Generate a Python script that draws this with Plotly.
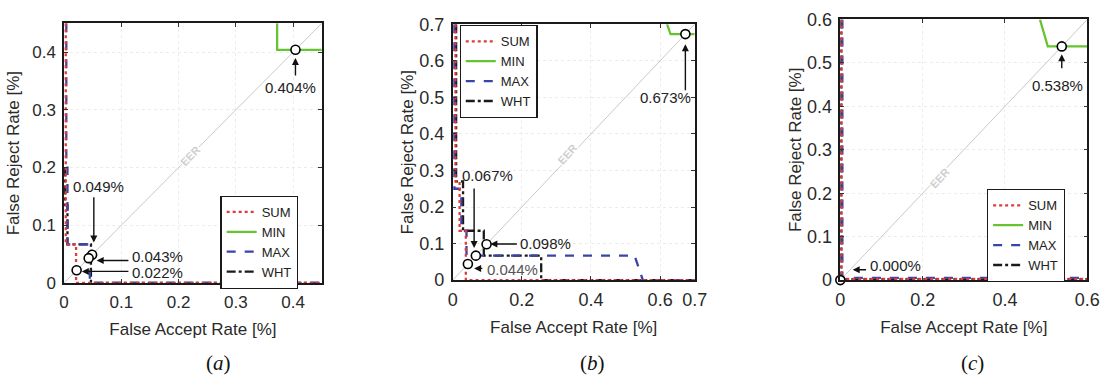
import plotly.graph_objects as go

# ---------------- data ----------------
# Panel (a)
a_sum_far = [0.003, 0.003, 0.021, 0.021, 0.45]
a_sum_frr = [0.45, 0.067, 0.067, 0.0, 0.0]
a_min_far = [0.372, 0.372, 0.45]
a_min_frr = [0.45, 0.404, 0.404]
a_max_far = [0.004, 0.004, 0.006, 0.006, 0.045, 0.045, 0.45]
a_max_frr = [0.45, 0.2, 0.2, 0.067, 0.067, 0.0, 0.0]
a_wht_far = [0.002, 0.002, 0.006, 0.006, 0.047, 0.047, 0.45]
a_wht_frr = [0.2, 0.135, 0.135, 0.067, 0.067, 0.0, 0.0]
a_eer = [0.404, 0.049, 0.043, 0.022]

# Panel (b)
b_sum_far = [0.008, 0.008, 0.02, 0.02, 0.038, 0.038, 0.7]
b_sum_frr = [0.7, 0.27, 0.27, 0.135, 0.135, 0.0, 0.0]
b_min_far = [0.62, 0.63, 0.7]
b_min_frr = [0.7, 0.673, 0.673]
b_max_far = [0.005, 0.005, 0.025, 0.025, 0.04, 0.04, 0.526, 0.55, 0.7]
b_max_frr = [0.7, 0.25, 0.25, 0.135, 0.135, 0.067, 0.067, 0.0, 0.0]
b_wht_far = [0.01, 0.01, 0.03, 0.03, 0.09, 0.09, 0.256, 0.256, 0.7]
b_wht_frr = [0.7, 0.27, 0.27, 0.135, 0.135, 0.067, 0.067, 0.0, 0.0]
b_eer = [0.673, 0.098, 0.067, 0.044]

# Panel (c)
c_sum_far = [0.003, 0.003, 0.6]
c_sum_frr = [0.6, 0.003, 0.003]
c_min_far = [0.485, 0.504, 0.6]
c_min_frr = [0.6, 0.538, 0.538]
c_max_far = [0.005, 0.005, 0.6]
c_max_frr = [0.6, 0.005, 0.005]
c_wht_far = [0.002, 0.002, 0.6]
c_wht_frr = [0.6, 0.002, 0.002]
c_eer = [0.538, 0.0]

series_names = ["SUM", "MIN", "MAX", "WHT"]
a_ticks = [0, 0.1, 0.2, 0.3, 0.4]
a_ticktext = ["0", "0.1", "0.2", "0.3", "0.4"]
b_xticks = [0, 0.2, 0.4, 0.6, 0.7]
b_xticktext = ["0", "0.2", "0.4", "0.6", "0.7"]
b_yticks = [0, 0.1, 0.2, 0.3, 0.4, 0.5, 0.6, 0.7]
b_yticktext = ["0", "0.1", "0.2", "0.3", "0.4", "0.5", "0.6", "0.7"]
c_xticks = [0, 0.2, 0.4, 0.6]
c_xticktext = ["0", "0.2", "0.4", "0.6"]
c_yticks = [0, 0.1, 0.2, 0.3, 0.4, 0.5, 0.6]
c_yticktext = ["0", "0.1", "0.2", "0.3", "0.4", "0.5", "0.6"]

# ---------------- styling ----------------
W, H = 1118, 383
FONT = "Liberation Sans, Arial, sans-serif"
styles = {
    "SUM": dict(color="#e03a3a", dash="dot", width=2.3),
    "MIN": dict(color="#66c430", dash="solid", width=2.3),
    "MAX": dict(color="#3a44a8", dash="dash", width=2.3),
    "WHT": dict(color="#1a1a1a", dash="dashdot", width=2.3),
}

fig = go.Figure()

panels = [
    ("x", "y", "legend", 0.45, [(a_sum_far, a_sum_frr), (a_min_far, a_min_frr), (a_max_far, a_max_frr), (a_wht_far, a_wht_frr)], a_eer),
    ("x2", "y2", "legend2", 0.7, [(b_sum_far, b_sum_frr), (b_min_far, b_min_frr), (b_max_far, b_max_frr), (b_wht_far, b_wht_frr)], b_eer),
    ("x3", "y3", "legend3", 0.6, [(c_sum_far, c_sum_frr), (c_min_far, c_min_frr), (c_max_far, c_max_frr), (c_wht_far, c_wht_frr)], c_eer),
]

for xa, ya, lg, vmax, curves, eer in panels:
    fig.add_trace(go.Scatter(x=[0, vmax], y=[0, vmax], mode="lines", xaxis=xa, yaxis=ya,
                             line=dict(color="#c9c9c9", width=1), showlegend=False, hoverinfo="skip"))
    order = [1, 3, 2, 0]
    for i in order:
        fx, fy = curves[i]
        name = series_names[i]
        fig.add_trace(go.Scatter(x=fx, y=fy, mode="lines", name=name, xaxis=xa, yaxis=ya,
                                 line=styles[name], legend=lg, showlegend=False))
    for name in series_names:
        fig.add_trace(go.Scatter(x=[None], y=[None], mode="lines", name=name, xaxis=xa, yaxis=ya,
                                 line=styles[name], legend=lg, showlegend=True))
    fig.add_trace(go.Scatter(x=eer, y=eer, mode="markers", xaxis=xa, yaxis=ya, showlegend=False,
                             cliponaxis=False,
                             marker=dict(symbol="circle", size=9, color="white",
                                         line=dict(color="black", width=1.6))))


def px_dom(a, b):
    return [a / W, b / W]


def ydom(top, bot):
    return [1 - bot / H, 1 - top / H]


def axis_common(fs):
    return dict(showline=True, linecolor="#1a1a1a", linewidth=1.5, mirror="ticks",
                ticks="inside", ticklen=4, tickcolor="#333", zeroline=False,
                showgrid=True, gridcolor="#ececec", griddash="dot", gridwidth=1,
                ticklabelstandoff=3,
                tickfont=dict(family=FONT, size=fs, color="#2a2a2a"),
                title_font=dict(family=FONT, size=17, color="#2a2a2a"))


fig.update_layout(
    width=W, height=H, margin=dict(l=0, r=0, t=0, b=0),
    paper_bgcolor="white", plot_bgcolor="white",
    xaxis=dict(domain=px_dom(60, 322), range=[0, 0.45], anchor="y", tickvals=a_ticks, ticktext=a_ticktext,
               title=dict(text="False Accept Rate [%]", standoff=12), **axis_common(17)),
    yaxis=dict(domain=ydom(14, 288), range=[0, 0.45], anchor="x", tickvals=a_ticks, ticktext=a_ticktext,
               title=dict(text="False Reject Rate [%]", standoff=8), **axis_common(17)),
    xaxis2=dict(domain=px_dom(455, 701), range=[0, 0.7], anchor="y2", tickvals=b_xticks, ticktext=b_xticktext,
                title=dict(text="False Accept Rate [%]", standoff=12), **axis_common(18)),
    yaxis2=dict(domain=ydom(15, 285), range=[0, 0.7], anchor="x2", tickvals=b_yticks, ticktext=b_yticktext,
                title=dict(text="False Reject Rate [%]", standoff=1), **axis_common(18)),
    xaxis3=dict(domain=px_dom(849, 1100), range=[0, 0.6], anchor="y3", tickvals=c_xticks, ticktext=c_xticktext,
                title=dict(text="False Accept Rate [%]", standoff=12), **axis_common(18)),
    yaxis3=dict(domain=ydom(10, 285), range=[0, 0.6], anchor="x3", tickvals=c_yticks, ticktext=c_yticktext,
                title=dict(text="False Reject Rate [%]", standoff=1), **axis_common(18)),
)

leg_common = dict(bgcolor="white", bordercolor="#1a1a1a", borderwidth=1.2,
                  font=dict(family=FONT, size=13, color="#222"), xanchor="left", yanchor="top",
                  tracegroupgap=0, itemwidth=30)
fig.update_layout(
    legend=dict(x=219 / W, y=1 - 196 / H, **leg_common),
    legend2=dict(x=462 / W, y=1 - 16 / H, **leg_common),
    legend3=dict(x=998 / W, y=1 - 189 / H, **leg_common),
)

ann = []


def arrow(xr, yr, x, y, ax, ay):
    ann.append(dict(xref=xr, yref=yr, axref=xr, ayref=yr, x=x, y=y, ax=ax, ay=ay, text="",
                    showarrow=True, arrowhead=2, arrowsize=1, arrowwidth=1.4, arrowcolor="#111",
                    standoff=0, startstandoff=0))


def label(xr, yr, x, y, text, xanchor="center", color="#222"):
    ann.append(dict(xref=xr, yref=yr, x=x, y=y, text=text, showarrow=False, xanchor=xanchor,
                    yanchor="middle", font=dict(family=FONT, size=15, color=color)))


def eer_label(xr, yr, x, y, ang):
    ann.append(dict(xref=xr, yref=yr, x=x, y=y, text="<b>EER</b>", showarrow=False, textangle=ang,
                    bgcolor="white", borderpad=0,
                    font=dict(family=FONT, size=11, color="#cfcfcf")))


# (a)
eer_label("x", "y", 0.22, 0.22, -46)
arrow("x", "y", 0.404, 0.39, 0.404, 0.357)
label("x", "y", 0.395, 0.339, "0.404%")
arrow("x", "y", 0.052, 0.07, 0.052, 0.151)
label("x", "y", 0.061, 0.168, "0.049%")
arrow("x", "y", 0.057, 0.039, 0.115, 0.039)
label("x", "y", 0.115, 0.046, "0.043%", xanchor="left")
arrow("x", "y", 0.031, 0.02, 0.115, 0.02)
label("x", "y", 0.115, 0.018, "0.022%", xanchor="left")

# (b)
eer_label("x2", "y2", 0.332, 0.345, -48)
arrow("x2", "y2", 0.673, 0.645, 0.673, 0.515)
label("x2", "y2", 0.615, 0.5, "0.673%")
arrow("x2", "y2", 0.062, 0.088, 0.062, 0.255)
label("x2", "y2", 0.1, 0.285, "0.067%")
arrow("x2", "y2", 0.109, 0.099, 0.19, 0.099)
label("x2", "y2", 0.19, 0.099, "0.098%", xanchor="left")
arrow("x2", "y2", 0.062, 0.032, 0.09, 0.032)
label("x2", "y2", 0.094, 0.03, "0.044%", xanchor="left", color="#555")

# (c)
eer_label("x3", "y3", 0.241, 0.236, -48)
arrow("x3", "y3", 0.538, 0.52, 0.538, 0.484)
label("x3", "y3", 0.528, 0.447, "0.538%")
arrow("x3", "y3", 0.03, 0.024, 0.066, 0.024)
label("x3", "y3", 0.068, 0.033, "0.000%", xanchor="left")

# captions
CF = dict(family="Liberation Serif, DejaVu Serif, serif", size=21, color="#111")
for xc, t in [(217, "a"), (597, "b"), (983, "c")]:
    ann.append(dict(xref="paper", yref="paper", x=xc / W, y=1 - 372 / H, text="(<i>%s</i>)" % t,
                    showarrow=False, xanchor="center", yanchor="middle", font=CF))

fig.update_layout(annotations=ann)
fig.write_html("out.html")
